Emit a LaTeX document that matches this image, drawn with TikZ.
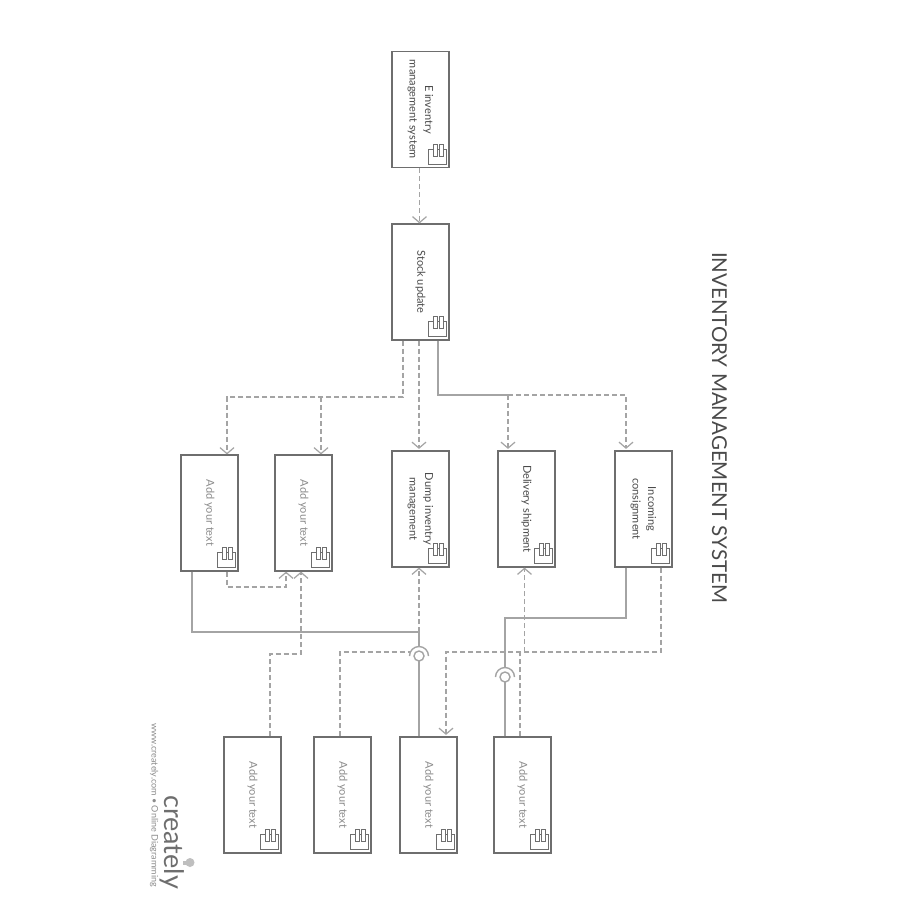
\documentclass[tikz,border=0pt]{standalone}
\usepackage{graphicx}
\usepackage{fontspec}
\setmainfont{Lato}
\usetikzlibrary{arrows.meta}
\definecolor{boxc}{HTML}{6E6E6E}
\definecolor{linec}{HTML}{A4A4A4}
\definecolor{darktxt}{HTML}{4A4A4A}
\definecolor{softtxt}{HTML}{8C8C8C}
\tikzset{
  box/.style={draw=boxc,line width=1.2pt,fill=white,minimum width=57pt,minimum height=116pt,inner sep=0pt,font=\fontsize{11}{15.5}\selectfont,text=darktxt},
  softbox/.style={box,text=softtxt},
  dep/.style={draw=linec,line width=1.3pt,dash pattern=on 5pt off 3pt},
  deparrow/.style={dep,-{Straight Barb[length=6pt,width=14pt,line width=1.2pt]}},
  assoc/.style={draw=linec,line width=1.4pt},
  iconline/.style={draw=boxc,line width=1.2pt,fill=white}
}
\newcommand{\rtext}[1]{\rotatebox{-90}{\begin{tabular}{@{}c@{}}#1\end{tabular}}}
\newcommand{\compicon}[1]{%
  \begin{scope}[shift={(#1.south east)}]
    \draw[iconline] (-21,-19) rectangle (-3,-4);
    \draw[iconline] (-16.5,-24) rectangle (-12,-12);
    \draw[iconline] (-10.5,-24) rectangle (-6,-12);
  \end{scope}}
\begin{document}
\begin{tikzpicture}[x=1pt,y=-1pt]
\useasboundingbox (0,0) rectangle (900,900);
\fill[white] (0,0) rectangle (900,900);
\node[box] (e) at (420.5,109.5) {\rtext{E inventry\\management system}};
\node[box] (stock) at (420.5,282) {\rtext{Stock update}};
\node[softbox] (a1) at (209.5,513) {\rtext{Add your text}};
\node[softbox] (a2) at (303.5,513) {\rtext{Add your text}};
\node[box] (dump) at (420.5,509) {\rtext{Dump inventry\\management}};
\node[box] (delivery) at (526.5,509) {\rtext{Delivery shipment}};
\node[box] (incoming) at (643.5,509) {\rtext{Incoming\\consignment}};
\node[softbox] (b1) at (252.5,795) {\rtext{Add your text}};
\node[softbox] (b2) at (342.5,795) {\rtext{Add your text}};
\node[softbox] (b3) at (428.5,795) {\rtext{Add your text}};
\node[softbox] (b4) at (522.5,795) {\rtext{Add your text}};
\foreach \n in {e,stock,a1,a2,dump,delivery,incoming,b1,b2,b3,b4}{\compicon{\n}}
% junctions
\coordinate (j1) at (403,397);
\coordinate (j3) at (508,395);
\coordinate (j4) at (227,587);
\coordinate (j5) at (301,654);
\coordinate (j6) at (192,632);
\coordinate (j7) at (419,632);
\coordinate (s1) at (419,656);
\coordinate (s2) at (505,677);
\coordinate (j8) at (340,652);
\coordinate (j9) at (410,652);
\coordinate (j10) at (661,652);
\coordinate (j11) at (626,618);
\coordinate (j12) at (524.5,652);
\coordinate (j13) at (520,652);
\coordinate (j14) at (270,654);
\coordinate (j15) at (446,652);
\coordinate (j16) at (505,618);
% upper dependencies
\draw[deparrow] ([xshift=-1pt]e.south) -- ([xshift=-1pt]stock.north);
\draw[deparrow] ([xshift=-17.5pt]stock.south) -- (j1) -| ([xshift=17.5pt]a1.north);
\draw[deparrow] ([xshift=17.5pt]a2.north |- j1) -- ([xshift=17.5pt]a2.north);
\draw[deparrow] ([xshift=-1.5pt]stock.south) -- ([xshift=-1.5pt,yshift=1.5pt]dump.north);
\draw[assoc] ([xshift=17.5pt]stock.south) |- (j3);
\draw[deparrow] (j3) -- ([xshift=-18.5pt,yshift=1.5pt]delivery.north);
\draw[deparrow] (j3) -| ([xshift=-17.5pt,yshift=1.5pt]incoming.north);
% middle
\draw[deparrow] ([xshift=17.5pt]a1.south) |- (j4) -| ([xshift=-17.5pt]a2.south);
\draw[deparrow] (j14 |- b1.north) -- (j14) -- (j5) -- ([xshift=-2.5pt]a2.south);
\draw[assoc] (j6 |- a1.south) |- (j7) -- ([yshift=9.5pt]s1);
\draw[deparrow] (j7) -- ([xshift=-1.5pt]dump.south);
\draw[dep] (j8 |- b2.north) |- (j9);
% sockets
\draw[assoc] (s1 |- b3.north) -- ([yshift=-5pt]s1);
\draw[assoc] (s1) circle (5);
\draw[assoc] ([xshift=-9.5pt]s1) arc[start angle=180,end angle=360,radius=9.5];
\draw[deparrow] (j10 |- incoming.south) -- (j10) -- (j15) -- ([yshift=1.5pt]j15 |- b3.north);
\draw[assoc] (j11 |- incoming.south) |- (j16) -- ([yshift=9.5pt]s2);
\draw[assoc] (s2 |- b4.north) -- ([yshift=-5pt]s2);
\draw[assoc] (s2) circle (5);
\draw[assoc] ([xshift=-9.5pt]s2) arc[start angle=180,end angle=360,radius=9.5];
\draw[deparrow] (j12) -- (j12 |- delivery.south);
\draw[dep] (j13 |- b4.north) -- (j13);
% title and logo
\node[rotate=-90,text=darktxt,font=\fontsize{20.5}{22}\selectfont,inner sep=0pt] (title) at (719.5,427.5) {INVENTORY MANAGEMENT SYSTEM};
\node[rotate=-90,text=softtxt,font=\fontsize{9}{11}\selectfont,inner sep=0pt] (web) at (154,805) {www.creately.com • Online Diagramming};
\node[rotate=-90,text=boxc,font=\fontsize{27}{30}\selectfont,inner sep=0pt,anchor=base west] (logo) at (164,795) {creately};
\fill[linec!70] (190,862.5) circle (4.5);
\fill[linec!70] (183,860.5) rectangle (187,864.5);
\end{tikzpicture}
\end{document}
